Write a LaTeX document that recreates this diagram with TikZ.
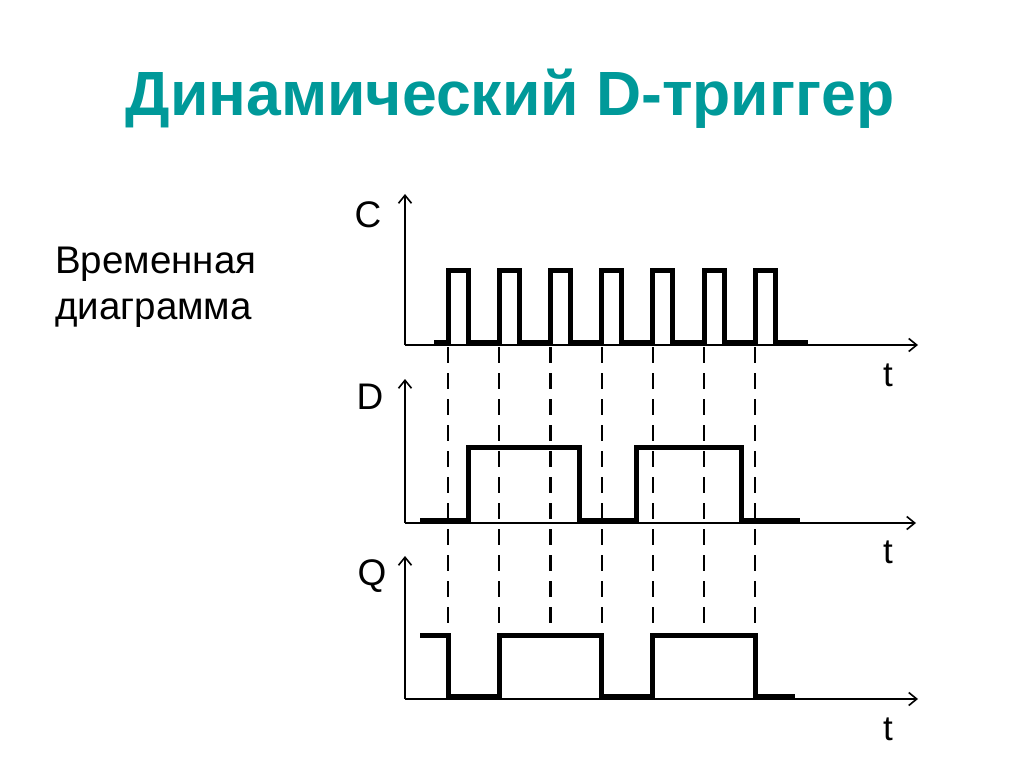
\documentclass[tikz,border=0pt]{standalone}
\usepackage{fontspec}
\setmainfont{Liberation Sans}
\usetikzlibrary{arrows.meta}
\definecolor{teal1}{RGB}{0,153,153}
\begin{document}
\begin{tikzpicture}[x=1pt,y=-1pt,
  axis/.style={line width=1.8pt,-{Straight Barb[length=8pt,width=13pt,line width=1.6pt]}},
  wave/.style={line width=5pt,line join=miter,line cap=butt},
  guide/.style={line width=2.2pt,dash pattern=on 16pt off 10pt},
  lbl/.style={font=\fontsize{37}{37}\selectfont,inner sep=0pt,anchor=base},
  tlbl/.style={font=\fontsize{35}{35}\selectfont,inner sep=0pt,anchor=base},
  body/.style={font=\fontsize{38.5}{38.5}\selectfont,inner sep=0pt,anchor=base west}]
\useasboundingbox (0,0) rectangle (1024,767);
% title and side text
\node[font=\bfseries\fontsize{62.5}{62.5}\selectfont,text=teal1,inner sep=0pt,anchor=base] (title) at (510,116) {Динамический D-триггер};
\node[body] (txt1) at (55,273) {Временная};
\node[body] (txt2) at (55,319) {диаграмма};
% axes
\coordinate (co) at (405,345); \coordinate (ct) at (405,194); \coordinate (cr) at (918,345);
\coordinate (do) at (405,523); \coordinate (dt) at (405,379); \coordinate (dr) at (916,523);
\coordinate (qo) at (405,699); \coordinate (qt) at (405,556); \coordinate (qr) at (918,699);
\draw[axis] (co) -- (ct);
\draw[axis] (co) -- (cr);
\draw[axis] (do) -- (dt);
\draw[axis] (do) -- (dr);
\draw[axis] (qo) -- (qt);
\draw[axis] (qo) -- (qr);
% labels
\node[lbl] (lc) at (368,227) {C};
\node[lbl] (ld) at (370,409) {D};
\node[lbl] (lq) at (372,585) {Q};
\node[tlbl] (t1) at (888,386) {t};
\node[tlbl] (t2) at (888,563) {t};
\node[tlbl] (t3) at (888,740) {t};
% guide lines at clock rising edges
\foreach \i in {0,...,6}{
  \pgfmathsetmacro{\xr}{448+51.2*\i}
  \coordinate (g\i a) at (\xr,347);
  \coordinate (g\i b) at (\xr,633);
  \draw[guide] (g\i a) -- (g\i b);
}
% C waveform
\draw[wave] (434,342.5)
  \foreach \i in {0,...,6}{
    -- ({448+51.2*\i},342.5) -- ({448+51.2*\i},270) -- ({468+51.2*\i},270) -- ({468+51.2*\i},342.5)
  } -- (808,342.5);
% D waveform
\draw[wave] (420,520.5) -- (468,520.5) -- (468,447) -- (579,447) -- (579,520.5)
  -- (636,520.5) -- (636,447) -- (741,447) -- (741,520.5) -- (800,520.5);
% Q waveform
\draw[wave] (420,635) -- (448,635) -- (448,696) -- (499.2,696) -- (499.2,635)
  -- (601.6,635) -- (601.6,696) -- (652.8,696) -- (652.8,635) -- (755.2,635)
  -- (755.2,696) -- (795,696);
\end{tikzpicture}
\end{document}
